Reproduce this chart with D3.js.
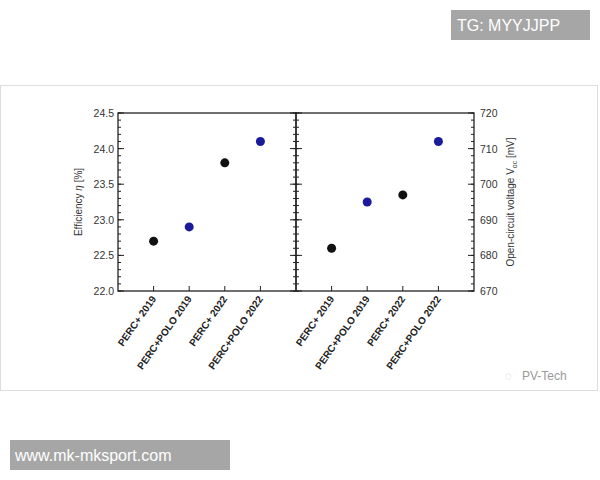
<!DOCTYPE html>
<html><head><meta charset="utf-8">
<script src="https://cdn.jsdelivr.net/npm/d3@7"></script>
<style>body{margin:0;background:#fff}text{font-family:"Liberation Sans",Arial,sans-serif}</style>
</head><body><svg id="chart" width="600" height="480"></svg>
<script>
var categories = ["PERC+ 2019", "PERC+POLO 2019", "PERC+ 2022", "PERC+POLO 2022"];
var efficiency = [22.7, 22.9, 23.8, 24.1];
var voc = [682, 695, 697, 712];
var pointColors = ["#111", "#1a1a9a", "#111", "#1a1a9a"];
var effTicks = [22.0, 22.5, 23.0, 23.5, 24.0, 24.5];
var vocTicks = [670, 680, 690, 700, 710, 720];

var svg = d3.select("#chart");
svg.append("rect").attr("x", 0.5).attr("y", 85.5).attr("width", 597).attr("height", 305)
  .attr("fill", "none").attr("stroke", "#ddd");

var pTop = 113, pBottom = 291, pLeft = 118, pMid = 296, pRight = 474;
var y1 = d3.scaleLinear().domain([22, 24.5]).range([pBottom, pTop]);
var y2 = d3.scaleLinear().domain([670, 720]).range([pBottom, pTop]);
var xL = d3.scaleLinear().domain([0, 5]).range([pLeft, pMid]);
var xR = d3.scaleLinear().domain([0, 5]).range([pMid, pRight]);

function panel(x, y, vals, ticks, minorStep, axisSide) {
  var g = svg.append("g");
  var x0 = x.range()[0], x1 = x.range()[1];
  g.append("rect").attr("x", x0).attr("y", pTop).attr("width", x1 - x0).attr("height", pBottom - pTop)
    .attr("fill", "none").attr("stroke", "#222").attr("stroke-width", 1.3);
  var dom = y.domain();
  var minors = d3.range(dom[0], dom[1] + 1e-9, minorStep);
  [x0, x1].forEach(function (xx, side) {
    var dir = side === 0 ? 1 : -1;
    g.selectAll(null).data(minors).enter().append("line")
      .attr("x1", xx).attr("x2", xx + dir * 3).attr("y1", d => y(d)).attr("y2", d => y(d))
      .attr("stroke", "#222");
    g.selectAll(null).data(ticks).enter().append("line")
      .attr("x1", xx).attr("x2", xx + dir * 6).attr("y1", d => y(d)).attr("y2", d => y(d))
      .attr("stroke", "#222");
  });
  g.selectAll(null).data([1, 2, 3, 4]).enter().append("line")
    .attr("x1", d => x(d)).attr("x2", d => x(d)).attr("y1", pBottom).attr("y2", pBottom - 5)
    .attr("stroke", "#222");
  g.selectAll(null).data(ticks).enter().append("text")
    .attr("x", axisSide === "left" ? x0 - 4 : x1 + 6).attr("y", d => y(d) + 4)
    .attr("text-anchor", axisSide === "left" ? "end" : "start")
    .attr("font-size", 10.5).attr("fill", "#333")
    .text(d => axisSide === "left" ? d.toFixed(1) : d);
  g.selectAll(null).data(vals).enter().append("circle")
    .attr("cx", (d, i) => x(i + 1)).attr("cy", d => y(d)).attr("r", 4.5)
    .attr("fill", (d, i) => pointColors[i]);
  g.selectAll(null).data(categories).enter().append("text")
    .attr("transform", (d, i) => "translate(" + (x(i + 1) + 3) + "," + (pBottom + 8) + ") rotate(-55)")
    .attr("text-anchor", "end").attr("font-size", 10).attr("font-weight", "bold").attr("fill", "#222")
    .text(d => d);
}
panel(xL, y1, efficiency, effTicks, 0.1, "left");
panel(xR, y2, voc, vocTicks, 2, "right");

var ly = svg.append("text").attr("transform", "translate(82," + ((pTop + pBottom) / 2) + ") rotate(-90)")
  .attr("text-anchor", "middle").attr("font-size", 10).attr("fill", "#333");
ly.append("tspan").text("Efficiency ");
ly.append("tspan").attr("font-style", "italic").text("η");
ly.append("tspan").text(" [%]");
var ry = svg.append("text").attr("transform", "translate(514," + ((pTop + pBottom) / 2) + ") rotate(-90)")
  .attr("text-anchor", "middle").attr("font-size", 10).attr("fill", "#333");
ry.append("tspan").text("Open-circuit voltage V");
ry.append("tspan").attr("font-size", 7).attr("dy", 3).text("oc");
ry.append("tspan").attr("dy", -3).text(" [mV]");

svg.append("text").attr("x", 522).attr("y", 380).attr("font-size", 12).attr("fill", "#999").text("PV-Tech");
svg.append("text").attr("x", 505).attr("y", 380).attr("font-size", 12).attr("fill", "#bbb").text("◌");

svg.append("rect").attr("x", 451).attr("y", 10).attr("width", 139).attr("height", 30).attr("fill", "#a6a6a6");
svg.append("text").attr("x", 457).attr("y", 31).attr("font-size", 16).attr("fill", "#fff").text("TG: MYYJJPP");
svg.append("rect").attr("x", 10).attr("y", 440).attr("width", 220).attr("height", 30).attr("fill", "#a6a6a6");
svg.append("text").attr("x", 15).attr("y", 461).attr("font-size", 16).attr("fill", "#fff").text("www.mk-mksport.com");
</script></body></html>
